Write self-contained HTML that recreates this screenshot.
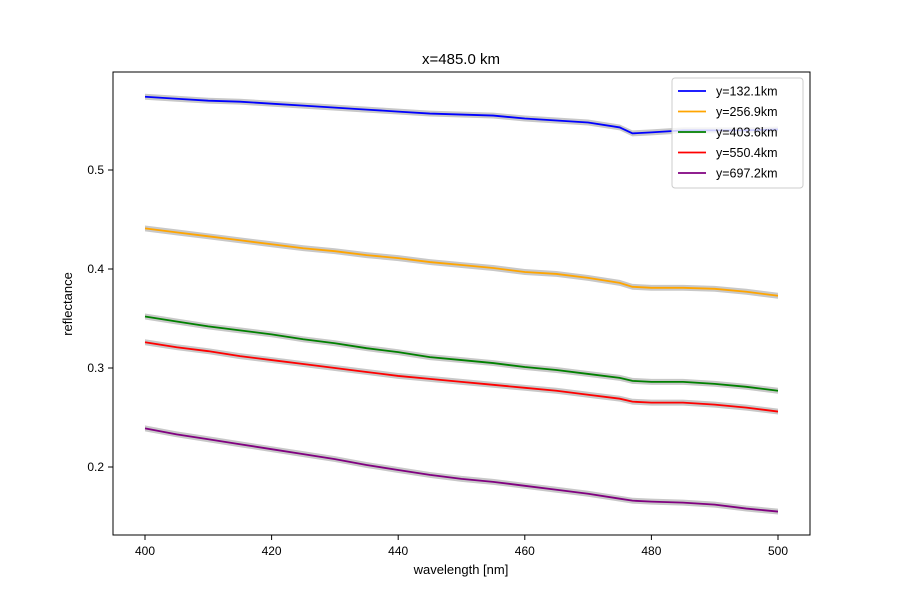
<!DOCTYPE html>
<html><head><meta charset="utf-8"><style>
body{margin:0;background:#fff}
svg{display:block;font-family:"Liberation Sans","DejaVu Sans",sans-serif}
</style></head><body>
<svg id="chart" width="900" height="600">
<rect x="0" y="0" width="900" height="600" fill="#fff"/>
<text x="461" y="64" font-size="15" text-anchor="middle">x=485.0 km</text>
<g id="bands"></g><g id="lines"></g>
<rect x="113" y="72" width="697" height="463" fill="none" stroke="#000" stroke-width="1"/>
<g id="xticks"></g><g id="yticks"></g>
<text x="461" y="574" font-size="13" text-anchor="middle">wavelength [nm]</text>
<text x="72" y="304" font-size="13" text-anchor="middle" transform="rotate(-90 72 304)">reflectance</text>
<g id="legend"></g>
</svg>
<script>
const wavelengths=[400,405,410,415,420,425,430,435,440,445,450,455,460,465,470,475,477,480,485,490,495,500];
const seriesLabels=["y=132.1km","y=256.9km","y=403.6km","y=550.4km","y=697.2km"];
const seriesColors=["blue","orange","green","red","purple"];
const s1=[0.574,0.572,0.570,0.569,0.567,0.565,0.563,0.561,0.559,0.557,0.556,0.555,0.552,0.550,0.548,0.543,0.537,0.538,0.540,0.540,0.540,0.541];
const s2=[0.441,0.437,0.433,0.429,0.425,0.421,0.418,0.414,0.411,0.407,0.404,0.401,0.397,0.395,0.391,0.386,0.382,0.381,0.381,0.380,0.377,0.373];
const s3=[0.352,0.347,0.342,0.338,0.334,0.329,0.325,0.320,0.316,0.311,0.308,0.305,0.301,0.298,0.294,0.290,0.287,0.286,0.286,0.284,0.281,0.277];
const s4=[0.326,0.321,0.317,0.312,0.308,0.304,0.300,0.296,0.292,0.289,0.286,0.283,0.280,0.277,0.273,0.269,0.266,0.265,0.265,0.263,0.260,0.256];
const s5=[0.239,0.233,0.228,0.223,0.218,0.213,0.208,0.202,0.197,0.192,0.188,0.185,0.181,0.177,0.173,0.168,0.166,0.165,0.164,0.162,0.158,0.155];
const xTicks=[400,420,440,460,480,500];
const yTicks=[0.2,0.3,0.4,0.5];
const series=[s1,s2,s3,s4,s5];
const NS="http://www.w3.org/2000/svg";
function xs(v){return 145+(v-400)*6.33;}
function ys(v){return 467-(v-0.2)*990;}
function mk(t,a,p){const e=document.createElementNS(NS,t);for(const k in a)e.setAttribute(k,a[k]);p.appendChild(e);return e;}
const bands=document.getElementById('bands'),lines=document.getElementById('lines');
series.forEach((s,i)=>{
  const up=s.map((v,j)=>xs(wavelengths[j])+','+ys(v+0.003));
  const dn=s.map((v,j)=>xs(wavelengths[j])+','+ys(v-0.003)).reverse();
  const b=mk('polygon',{points:up.concat(dn).join(' '),fill:'#c8c8c8'},bands);
  
  
  const l=mk('polyline',{points:s.map((v,j)=>xs(wavelengths[j])+','+ys(v)).join(' '),fill:'none',stroke:seriesColors[i],'stroke-width':1.8},lines);
  
  
});
const xt=document.getElementById('xticks');
xTicks.forEach(v=>{
  const t=mk('line',{x1:xs(v),x2:xs(v),y1:535,y2:540,stroke:'#000'},xt);
  
  
  const l=mk('text',{x:xs(v),y:555,'font-size':12,'text-anchor':'middle'},xt);l.textContent=v;
  
  
});
const yt=document.getElementById('yticks');
yTicks.forEach(v=>{
  const t=mk('line',{x1:108,x2:113,y1:ys(v),y2:ys(v),stroke:'#000'},yt);
  
  
  const l=mk('text',{x:104,y:ys(v)+4,'font-size':12,'text-anchor':'end'},yt);l.textContent=v.toFixed(1);
  
  
});
const lg=document.getElementById('legend');
const box=mk('rect',{x:672,y:78,width:131,height:110,rx:3,fill:'#fff','fill-opacity':0.8,stroke:'#ccc'},lg);


seriesLabels.forEach((n,i)=>{
  const y=91+i*20.5;
  const l=mk('line',{x1:678,x2:706,y1:y,y2:y,stroke:seriesColors[i],'stroke-width':1.8},lg);
  
  
  const t=mk('text',{x:716,y:y+4.5,'font-size':12.5},lg);t.textContent=n;
  
  
});
</script>
</body></html>
